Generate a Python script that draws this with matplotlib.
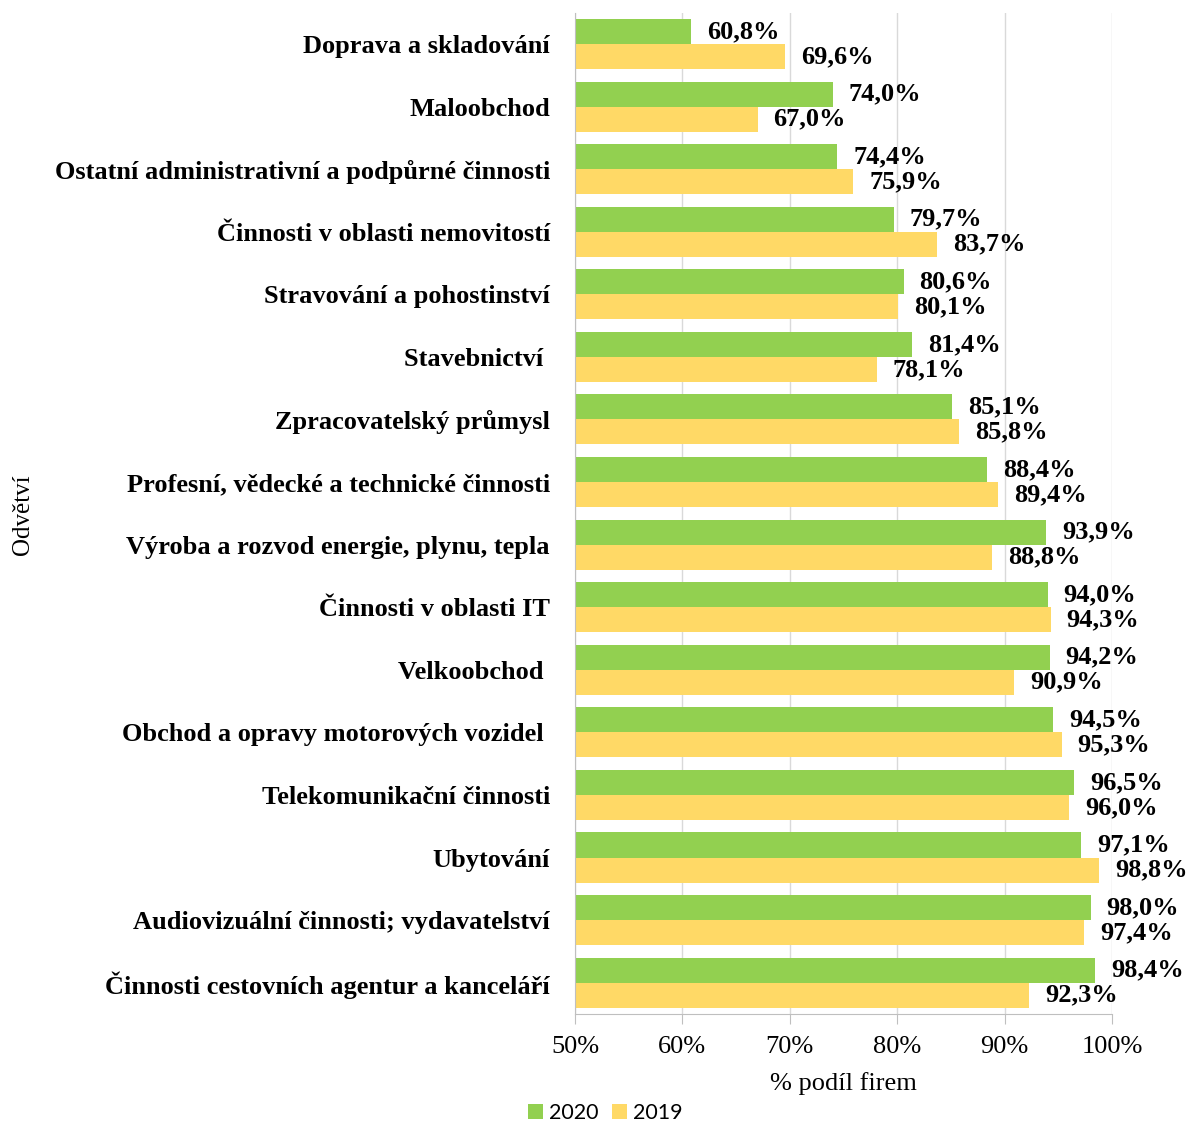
import numpy as np
import matplotlib.pyplot as plt

categories = ["Doprava a skladování", "Maloobchod",
              "Ostatní administrativní a podpůrné činnosti",
              "Činnosti v oblasti nemovitostí", "Stravování a pohostinství",
              "Stavebnictví ", "Zpracovatelský průmysl",
              "Profesní, vědecké a technické činnosti",
              "Výroba a rozvod energie, plynu, tepla", "Činnosti v oblasti IT",
              "Velkoobchod ", "Obchod a opravy motorových vozidel ",
              "Telekomunikační činnosti", "Ubytování",
              "Audiovizuální činnosti; vydavatelství",
              "Činnosti cestovních agentur a kanceláří"]
v2020 = [60.8, 74.0, 74.4, 79.7, 80.6, 81.4, 85.1, 88.4, 93.9, 94.0, 94.2, 94.5, 96.5, 97.1, 98.0, 98.4]
v2019 = [69.6, 67.0, 75.9, 83.7, 80.1, 78.1, 85.8, 89.4, 88.8, 94.3, 90.9, 95.3, 96.0, 98.8, 97.4, 92.3]
xticks = [50, 60, 70, 80, 90, 100]

serif = ['Liberation Serif', 'DejaVu Serif']
green = '#92D050'
yellow = '#FFD966'

fig = plt.figure(figsize=(11.87, 11.22), dpi=100)
ax = fig.add_axes([0.4844, 0.0963, 0.4524, 0.8924])

y = np.arange(len(categories))
h = 0.4
b1 = ax.barh(y - h / 2, v2020, height=h, left=0, color=green, label='2020', zorder=2)
b2 = ax.barh(y + h / 2, v2019, height=h, left=0, color=yellow, label='2019', zorder=2)

for bars, vals in ((b1, v2020), (b2, v2019)):
    for bar, v in zip(bars, vals):
        ax.annotate(f"{v:.1f}%".replace('.', ','),
                    (v, bar.get_y() + bar.get_height() / 2),
                    xytext=(11.5, 0), textcoords='offset points',
                    va='center', ha='left', fontsize=19, fontweight='bold',
                    family=serif, annotation_clip=False)

ax.set_xlim(50, 100)
ax.set_ylim(len(categories) - 0.5, -0.5)
ax.set_yticks(y)
ax.set_yticklabels(categories, fontsize=19, fontweight='bold', family=serif)
ax.tick_params(axis='y', length=0, pad=18)
ax.set_xticks(xticks)
ax.set_xticklabels([f"{t}%" for t in xticks], fontsize=19, family=serif)
ax.tick_params(axis='x', length=7, color='#BFBFBF', pad=9)
ax.grid(axis='x', color='#D9D9D9', linewidth=1, zorder=0)
for s in ('top', 'right'):
    ax.spines[s].set_visible(False)
for s in ('left', 'bottom'):
    ax.spines[s].set_color('#BFBFBF')

ax.set_xlabel('% podíl firem', fontsize=19, family=serif, labelpad=10)
fig.text(0.019, 0.541, 'Odvětví', rotation=90, fontsize=18, family=serif,
         ha='center', va='center')

fig.legend(loc='lower center', bbox_to_anchor=(0.51, -0.018), ncol=2, frameon=False,
           prop={'family': 'Lato', 'size': 15.5}, handlelength=0.7, handleheight=0.7,
           handletextpad=0.3, columnspacing=0.6)

fig.savefig('out.png', dpi=100)
